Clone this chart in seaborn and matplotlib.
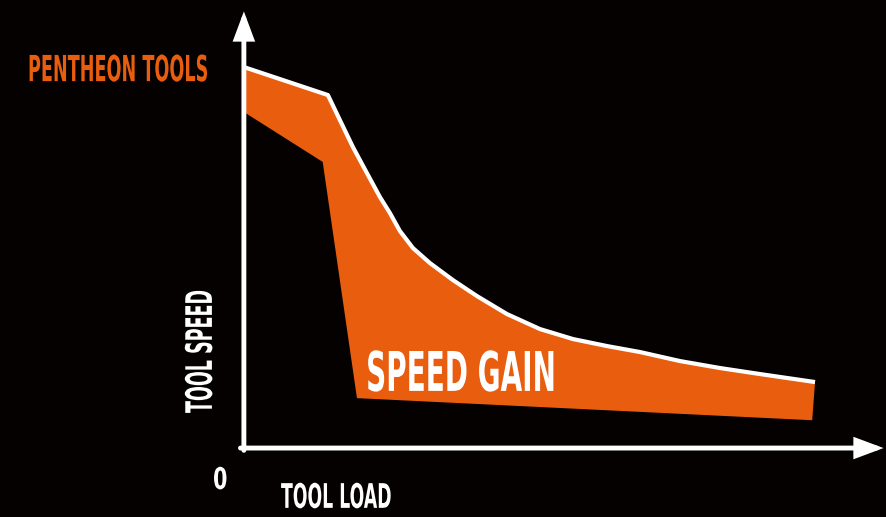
import matplotlib
matplotlib.use('Agg')
import matplotlib.pyplot as plt
import matplotlib.patheffects as patheffects
from matplotlib.transforms import Affine2D
import seaborn as sns

# upper curve = Pentheon tools speed, lower boundary = standard tool speed
load_upper = [0, 14.71, 16.81, 19.09, 21.54, 23.82, 25.57, 27.32, 29.6, 32.57, 36.6,
              40.8, 46.06, 51.84, 57.62, 63.57, 69.35, 76.36, 83.36, 90.37, 100]
speed_upper = [100, 92.65, 86.09, 79.0, 72.18, 65.88, 61.68, 56.96, 52.49, 48.56, 44.09,
               39.9, 35.17, 31.23, 28.61, 26.77, 25.2, 22.83, 21.0, 19.42, 17.32]
load_lower = [0, 13.8, 19.8, 99.5]
speed_lower = [88.2, 75.1, 13.1, 7.3]

BG = '#050101'
ORANGE = '#E95D0E'
FONT = 'DejaVu Sans'


class Squeeze(patheffects.AbstractPathEffect):
    """Narrow the glyphs along the text direction (condensed look)."""

    def __init__(self, sx):
        super().__init__()
        self.sx = sx

    def draw_path(self, renderer, gc, tpath, affine, rgbFace=None):
        renderer.draw_path(gc, tpath, Affine2D().scale(self.sx, 1) + affine, rgbFace)


def label(ax, x, y, s, size, sx, color='white', rotation=0):
    ax.text(x, y, s, fontsize=size, color=color, fontweight='bold', family=FONT,
            rotation=rotation, rotation_mode='anchor', ha='left', va='baseline',
            path_effects=[Squeeze(sx)], zorder=5)


sns.set_style('dark')
fig = plt.figure(figsize=(8.87, 5.17), dpi=100, facecolor=BG)
ax = fig.add_axes([0, 0, 1, 1])
ax.set_facecolor(BG)
ax.set_xlim(-42.7, 112.6)
ax.set_ylim(-18.1, 117.6)
ax.axis('off')

# speed gain area between the two curves
poly_x = load_upper + load_lower[::-1]
poly_y = speed_upper + speed_lower[::-1]
ax.fill(poly_x, poly_y, color=ORANGE, lw=0, zorder=2)

sns.lineplot(x=load_upper, y=speed_upper, color='white', lw=3, ax=ax,
             solid_capstyle='butt', zorder=3)

# axes with arrow heads
arrow = dict(arrowstyle='-|>,head_length=0.75,head_width=0.28', color='white',
             lw=3.5, mutation_scale=20, shrinkA=0, shrinkB=0, joinstyle='miter')
ax.annotate('', xy=(0, 114.6), xytext=(0, -0.6), arrowprops=arrow, zorder=4)
ax.annotate('', xy=(112.0, 0), xytext=(-0.6, 0), arrowprops=arrow, zorder=4)

label(ax, -37.8, 96.3, 'PENTHEON TOOLS', 25.9, 0.49, color=ORANGE)
label(ax, 21.4, 15.0, 'SPEED GAIN', 39.4, 0.51)
label(ax, -5.6, 9.2, 'TOOL SPEED', 26.3, 0.48, rotation=90)
label(ax, 6.5, -15.7, 'TOOL LOAD', 24.4, 0.51)
label(ax, -5.4, -10.75, '0', 21.6, 0.69)

fig.savefig('out.png', dpi=100, facecolor=BG)
